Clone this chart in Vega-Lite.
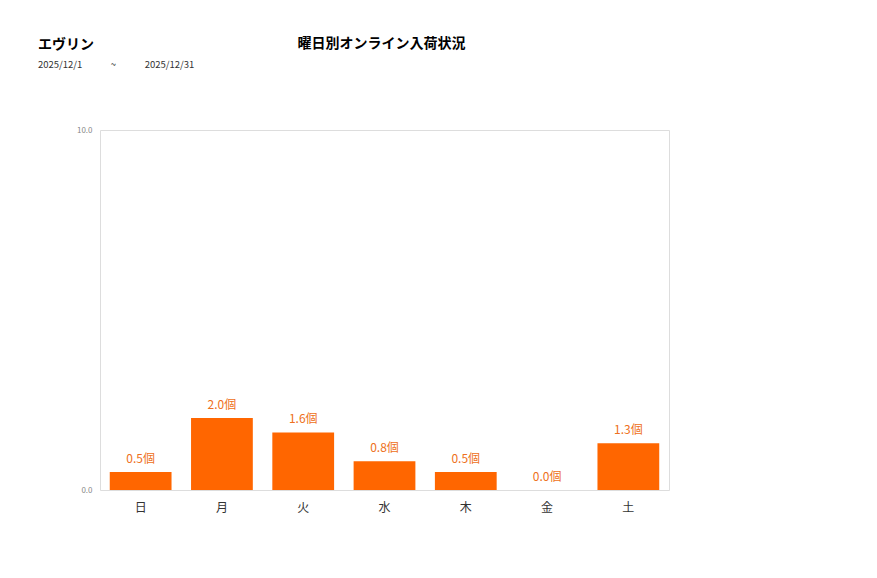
{
  "$schema": "https://vega.github.io/schema/vega-lite/v6.json",
  "autosize": "none",
  "padding": {"left": 100, "top": 130, "right": 208, "bottom": 88},
  "width": 569,
  "height": 360,
  "background": "white",
  "title": {
    "text": "エヴリン",
    "subtitle": "2025/12/1\u2003\u2003\u2003~\u2003\u2003\u20032025/12/31",
    "anchor": "start",
    "frame": "group",
    "dx": -62,
    "offset": -33,
    "font": "Noto Sans CJK JP",
    "fontSize": 14,
    "fontWeight": "bold",
    "color": "#000",
    "subtitleFont": "Noto Sans CJK JP",
    "subtitleFontSize": 9.5,
    "subtitleColor": "#333",
    "subtitlePadding": 8
  },
  "data": {
    "values": [
      {"day": "日", "value": 0.5},
      {"day": "月", "value": 2.0},
      {"day": "火", "value": 1.6},
      {"day": "水", "value": 0.8},
      {"day": "木", "value": 0.5},
      {"day": "金", "value": 0.0},
      {"day": "土", "value": 1.3}
    ]
  },
  "transform": [
    {"calculate": "format(datum.value, '.1f') + '個'", "as": "label"}
  ],
  "encoding": {
    "x": {
      "field": "day",
      "type": "nominal",
      "sort": null,
      "scale": {"paddingInner": 0.24, "paddingOuter": 0.12},
      "axis": {
        "title": null,
        "labelAngle": 0,
        "labelFont": "Noto Sans CJK JP",
        "labelFontSize": 12,
        "labelColor": "#333",
        "labelPadding": 12,
        "ticks": false,
        "domain": false
      }
    },
    "y": {
      "field": "value",
      "type": "quantitative",
      "scale": {"domain": [0, 10], "nice": false},
      "axis": {
        "values": [0, 10],
        "format": ".1f",
        "grid": false,
        "ticks": false,
        "domain": false,
        "labelFont": "Noto Sans CJK JP",
        "labelFontSize": 8,
        "labelColor": "#888",
        "labelPadding": 8,
        "title": "曜日別オンライン入荷状況",
        "titleAngle": 0,
        "titleX": 281,
        "titleY": -87,
        "titleAlign": "center",
        "titleBaseline": "middle",
        "titleFont": "Noto Sans CJK JP",
        "titleFontSize": 14,
        "titleFontWeight": "bold",
        "titleColor": "#000"
      }
    }
  },
  "layer": [
    {
      "mark": {"type": "bar", "color": "#ff6600"}
    },
    {
      "mark": {
        "type": "text",
        "dy": -13,
        "font": "Noto Sans CJK JP",
        "fontSize": 12,
        "color": "#ee7020"
      },
      "encoding": {"text": {"field": "label"}}
    }
  ],
  "config": {
    "view": {"stroke": "#dddddd"}
  }
}
